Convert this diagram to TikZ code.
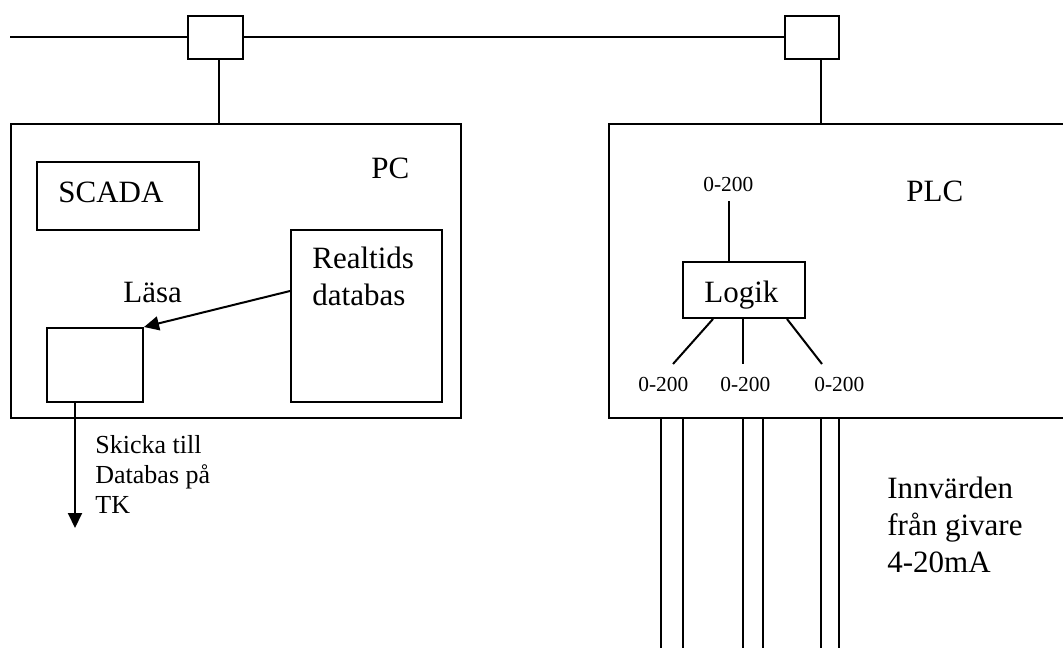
\documentclass[tikz,border=0pt]{standalone}
\usepackage{fontspec}
\setmainfont{Liberation Serif}
\usetikzlibrary{arrows.meta}
\tikzset{
  box/.style={draw, line width=1pt, inner sep=0pt, rectangle},
  wire/.style={line width=1pt},
  arr/.style={line width=1pt, -{Triangle[length=7.5pt,width=7pt]}},
  txt/.style={inner sep=0pt, anchor=base west, align=left},
  big/.style={txt, font=\fontsize{15.5}{18.5}\selectfont},
  mid/.style={txt, font=\fontsize{13}{15}\selectfont},
  sml/.style={txt, font=\fontsize{10.7}{12.5}\selectfont},
}
\begin{document}
\begin{tikzpicture}[x=0.5pt, y=-0.5pt]
\useasboundingbox (0,0) rectangle (1063,647);
% network switches
\coordinate (busstart) at (10,37.5);
\node[box, minimum width=27.5pt, minimum height=21.5pt] (swL) at (215.5,37.5) {};
\node[box, minimum width=27pt, minimum height=21.5pt] (swR) at (812,37.5) {};
\draw[wire] (busstart) -- (swL.west);
\draw[wire] (swL.east) -- (swR.west);
% PC
\node[box, minimum width=225pt, minimum height=147pt] (pc) at (236,271) {};
\draw[wire] ([shift={(3.5,0)}]swL.south) -- ([shift={(3.5,0)}]swL.south |- pc.north);
\node[box, minimum width=81pt, minimum height=34pt] (scada) at (118,196) {};
\node[big] (scadat) at (58,202) {SCADA};
\begin{scope}
\clip (300,140) rectangle (407,200);
\node[big] (pct) at (371,178) {PC};
\end{scope}
\node[box, minimum width=75.5pt, minimum height=86pt] (rtdb) at (366.5,316) {};
\node[big] (rtdbt) at (312,305) {Realtids\\databas};
\node[big] (lasa) at (123,302) {Läsa};
\node[box, minimum width=48pt, minimum height=37pt] (lbox) at (95,365) {};
\draw[arr] ([shift={(0,-25)}]rtdb.west) -- (lbox.north east);
\coordinate (tk) at (75,528);
\draw[arr] ([shift={(-20,0)}]lbox.south) -- (tk);
\node[mid] (skicka) at (95,513) {Skicka till\\Databas på\\TK};
% PLC
\node[inner sep=0pt, minimum width=227pt, minimum height=147pt] (plc) at (836,271) {};
\draw[wire] (plc.north east) -- (plc.north west) -- (plc.south west) -- (plc.south east);
\draw[wire] ([shift={(9,0)}]swR.south) -- ([shift={(9,0)}]swR.south |- plc.north);
\node[big] (plct) at (906,201) {PLC};
\node[box, minimum width=61pt, minimum height=28pt] (logik) at (744,290) {};
\node[big] (logikt) at (704,302) {Logik};
\node[sml] (v0) at (703,191) {0-200};
\node[sml] (v1) at (638,391) {0-200};
\node[sml] (v2) at (720,391) {0-200};
\node[sml] (v3) at (814,391) {0-200};
\draw[wire] ([shift={(-15,0)}]logik.north) -- ++(0,-60);
\draw[wire] ([shift={(-31,0)}]logik.south) -- ++(-40,45);
\draw[wire] ([shift={(-1,0)}]logik.south) -- ++(0,45);
\draw[wire] ([shift={(43,0)}]logik.south) -- ++(35,45);
\foreach \d in {52,74,134,154,212,230}
  \draw[wire] ([shift={(\d,0)}]plc.south west) -- ++(0,235);
\node[big] (innv) at (887,572) {Innvärden\\från givare\\4-20mA};
\end{tikzpicture}
\end{document}
